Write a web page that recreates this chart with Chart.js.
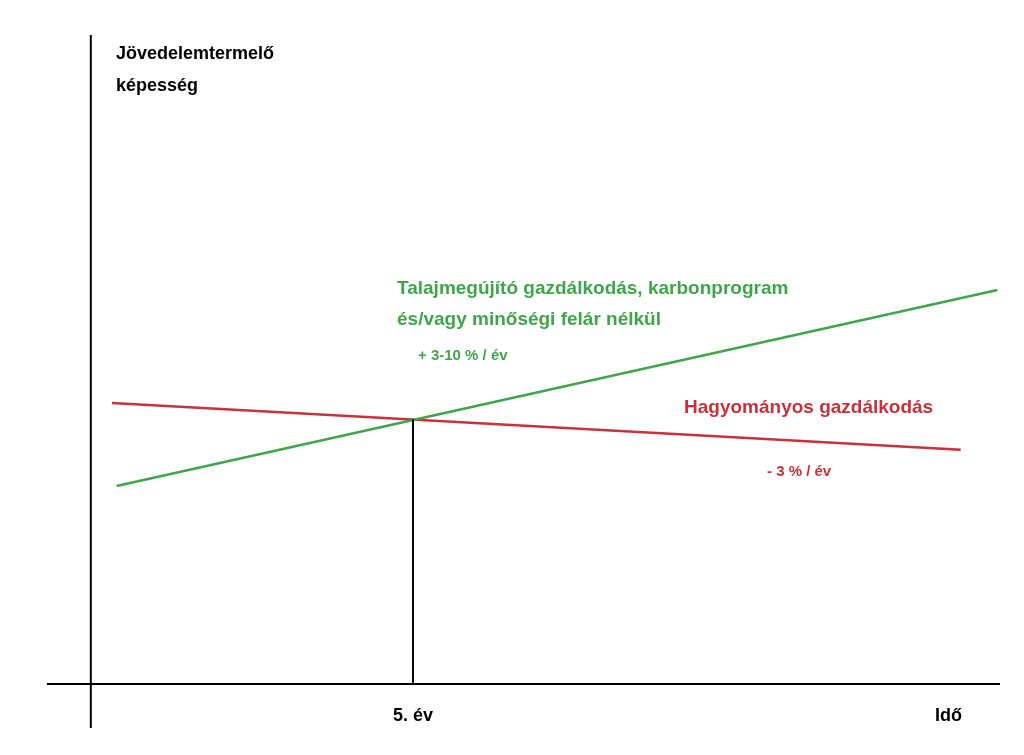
<!DOCTYPE html>
<html><head><meta charset="utf-8">
<script src="https://cdn.jsdelivr.net/npm/chart.js@4"></script>
<style>html,body{margin:0;background:#fff}</style></head>
<body><canvas id="c" width="1024" height="755"></canvas>
<script>
const greenX=[0.4,14.07], greenY=[30.5,60.7];
const redX=[0.33,13.5], redY=[43.3,36.1];
const crossX=5, crossY=40.8;
const xMin=-0.68, xMax=14.11, yMin=-6.78, yMax=100;
const labels={y1:'Jövedelemtermelő',y2:'képesség',x5:'5. év',xEnd:'Idő',
 g1:'Talajmegújító gazdálkodás, karbonprogram',g2:'és/vagy minőségi felár nélkül',g3:'+ 3-10 % / év',
 r1:'Hagyományos gazdálkodás',r2:'- 3 % / év'};
const G='#3fa64a', R='#c9313b';
const pts=(xs,ys)=>xs.map((x,i)=>({x,y:ys[i]}));
const txt={id:'txt',afterDraw(c){const x=c.scales.x,y=c.scales.y,ctx=c.ctx;
 const t=(s,px,py,col,sz,al)=>{ctx.font='bold '+sz+'px "Liberation Sans", Arial';ctx.fillStyle=col;ctx.textAlign=al||'left';ctx.textBaseline='middle';ctx.fillText(s,px,py);};
 t(labels.y1,116,54,'#000',18);t(labels.y2,116,86,'#000',18);
 t(labels.x5,x.getPixelForValue(crossX),716,'#000',18,'center');t(labels.xEnd,962,716,'#000',18,'right');
 t(labels.g1,397,289,G,19);t(labels.g2,397,320,G,19);t(labels.g3,418,356,G,15);
 t(labels.r1,684,408,R,19);t(labels.r2,767,472,R,15);}};
new Chart(document.getElementById('c'),{type:'scatter',
 data:{datasets:[
  {data:[{x:0,y:yMin},{x:0,y:yMax}],borderColor:'#000',borderWidth:2},
  {data:[{x:xMin,y:0},{x:xMax,y:0}],borderColor:'#000',borderWidth:2},
  {data:[{x:crossX,y:0},{x:crossX,y:crossY}],borderColor:'#000',borderWidth:2},
  {data:pts(greenX,greenY),borderColor:G,borderWidth:2.5},
  {data:pts(redX,redY),borderColor:R,borderWidth:2.5}
 ].map(d=>Object.assign(d,{showLine:true,pointRadius:0,fill:false}))},
 options:{responsive:false,animation:false,events:[],
  layout:{padding:{left:47,right:24,top:35,bottom:27}},
  plugins:{legend:{display:false},tooltip:{enabled:false}},
  scales:{x:{type:'linear',min:xMin,max:xMax,display:false},y:{min:yMin,max:yMax,display:false}}},
 plugins:[txt]});
</script></body></html>
